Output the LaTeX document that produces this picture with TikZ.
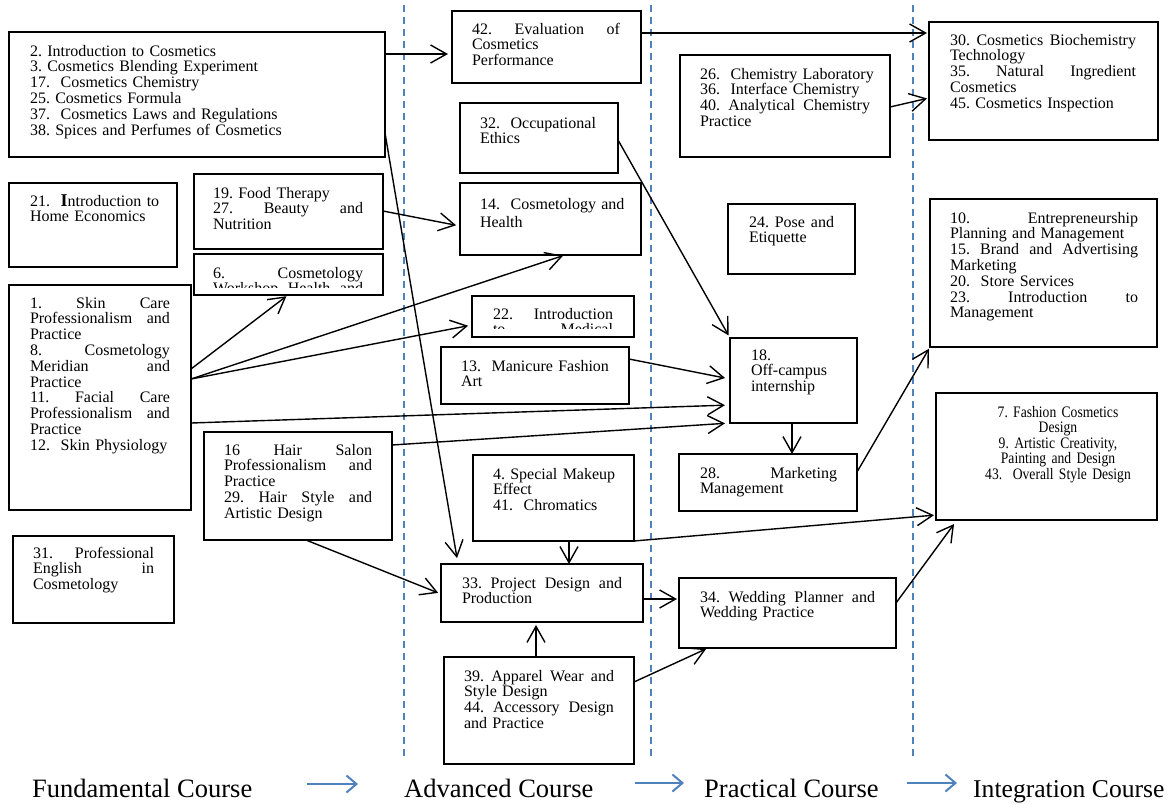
\documentclass[tikz,border=0pt]{standalone}
\usepackage{fontspec}
\setmainfont{Liberation Serif}
\newfontfamily\condserif[FakeStretch=0.85]{Liberation Serif}
\usetikzlibrary{arrows.meta}
\definecolor{sepblue}{RGB}{79,129,189}
\frenchspacing
\newcommand\jline[1]{\makebox[\hsize][s]{\spaceskip=0.25em plus 1fil\relax #1}}
\newcommand\jlinew[2]{\makebox[#1][s]{\spaceskip=0.25em plus 1fil\relax #2}}
\newcommand\bxfont{\fontsize{16}{15.8}\selectfont\lineskiplimit=-100pt\frenchspacing\hyphenpenalty=10000\relax}
\newcommand\smfont{\condserif\fontsize{16}{15.5}\selectfont\lineskiplimit=-100pt\frenchspacing\relax}
\begin{document}
\begin{tikzpicture}[x=1pt,y=-1pt,
  box/.style={draw, line width=1.8pt, anchor=north west, inner sep=0pt, outer sep=0pt},
  txt/.style={anchor=base west, inner sep=0pt, outer sep=0pt, align=left, font=\bxfont},
  arr/.style={line width=1.4pt, -{Straight Barb[length=16pt,width=18pt,line width=1.4pt]}},
  sep/.style={draw=sepblue, line width=1.3pt, dash pattern=on 7pt off 5pt},
  lab/.style={anchor=base west, inner sep=0pt, font=\fontsize{26.5}{30}\selectfont},
  bluearr/.style={draw=sepblue, line width=2pt, -{Straight Barb[length=10pt,width=17pt,line width=2pt]}}
]
\useasboundingbox (0,0) rectangle (1170,804);
\fill[white] (0,0) rectangle (1170,804);

% separators
\draw[sep] (404,5) -- (404,757);
\draw[sep] (651,5) -- (651,757);
\draw[sep] (913,5) -- (913,757);

% boxes
\node[box, minimum width=376pt, minimum height=125pt] (A) at (9,32) {};
\node[box, minimum width=168pt, minimum height=84pt] (b21) at (9,183) {};
\node[box, minimum width=189pt, minimum height=75pt] (b19) at (194,174) {};
\node[box, minimum width=189pt, minimum height=41pt] (b6) at (194,254) {};
\node[box, minimum width=182pt, minimum height=225pt] (b1) at (9,285) {};
\node[box, minimum width=188pt, minimum height=108pt] (b16) at (204,432) {};
\node[box, minimum width=161pt, minimum height=87pt] (b31) at (13,536) {};
\node[box, minimum width=189pt, minimum height=72pt] (b42) at (452,11) {};
\node[box, minimum width=158pt, minimum height=70pt] (b32) at (460,103) {};
\node[box, minimum width=181pt, minimum height=72pt] (b14) at (460,183) {};
\node[box, minimum width=162pt, minimum height=41pt] (b22) at (472,296) {};
\node[box, minimum width=188pt, minimum height=57pt] (b13) at (441,347) {};
\node[box, minimum width=161pt, minimum height=86pt] (b4) at (473,455) {};
\node[box, minimum width=202pt, minimum height=58pt] (b33) at (441,564) {};
\node[box, minimum width=190pt, minimum height=107pt] (b39) at (444,657) {};
\node[box, minimum width=210pt, minimum height=102pt] (b26) at (680,55) {};
\node[box, minimum width=127pt, minimum height=70pt] (b24) at (728,204) {};
\node[box, minimum width=127pt, minimum height=85pt] (b18) at (730,338) {};
\node[box, minimum width=178pt, minimum height=57pt] (b28) at (679,454) {};
\node[box, minimum width=217pt, minimum height=70pt] (b34) at (679,578) {};
\node[box, minimum width=229pt, minimum height=118pt] (b30) at (929,22) {};
\node[box, minimum width=227pt, minimum height=148pt] (b10) at (930,199) {};
\node[box, minimum width=221pt, minimum height=127pt] (b7) at (936,393) {};

% texts
\node[txt, text width=340pt] (tA) at (30,56) {2. Introduction to Cosmetics\\3. Cosmetics Blending Experiment\\17.~~Cosmetics Chemistry\\25. Cosmetics Formula\\37.~~Cosmetics Laws and Regulations\\38. Spices and Perfumes of Cosmetics};
\node[txt, text width=140pt] (t21) at (30,206) {21.~~{\fontsize{18}{15}\selectfont\bfseries I}ntroduction to\\Home Economics};
\node[txt, text width=150pt] (t19) at (213,198) {19. Food Therapy\\ \jlinew{150pt}{27. Beauty and}\\Nutrition};
\begin{scope}
\clip (194,254) rectangle (383,287);
\node[txt, text width=150pt] (t6) at (213,278) {\jlinew{150pt}{6. Cosmetology}\\ \jlinew{150pt}{Workshop Health and}};
\end{scope}
\node[txt, text width=140pt] (t1) at (30,308) {\jlinew{140pt}{1. Skin Care}\\ \jlinew{140pt}{Professionalism and}\\Practice\\ \jlinew{140pt}{8. Cosmetology}\\ \jlinew{140pt}{Meridian and}\\Practice\\ \jlinew{140pt}{11. Facial Care}\\ \jlinew{140pt}{Professionalism and}\\Practice\\12.~~Skin Physiology};
\node[txt, text width=148pt] (t16) at (224,455) {\jlinew{148pt}{16 Hair Salon}\\ \jlinew{148pt}{Professionalism and}\\Practice\\ \jlinew{148pt}{29. Hair Style and}\\Artistic Design};
\node[txt, text width=121pt] (t31) at (33,558) {\jlinew{121pt}{31. Professional}\\ \jlinew{121pt}{English in}\\Cosmetology};
\node[txt, text width=148pt] (t42) at (472,34) {\jlinew{148pt}{42. Evaluation of}\\Cosmetics\\Performance};
\node[txt, text width=130pt] (t32) at (480,128) {32.~~Occupational\\Ethics};
\node[txt, text width=150pt] (t14) at (480,209) {14.~~Cosmetology and\\[3pt]Health};
\begin{scope}
\clip (472,296) rectangle (634,328.5);
\node[txt, text width=120pt] (t22) at (493,319) {\jlinew{120pt}{22. Introduction}\\ \jlinew{120pt}{to Medical}};
\end{scope}
\node[txt, text width=160pt] (t13) at (461,371) {13.~~Manicure Fashion\\Art};
\node[txt, text width=135pt] (t4) at (493,479) {4. Special Makeup\\Effect\\41.~~Chromatics};
\node[txt, text width=160pt] (t33) at (462,588) {\jlinew{160pt}{33.~Project Design and}\\Production};
\node[txt, text width=150pt] (t39) at (464,681) {\jlinew{150pt}{39.~Apparel Wear and}\\Style Design\\ \jlinew{150pt}{44.~Accessory Design}\\and Practice};
\node[txt, text width=185pt] (t26) at (700,79) {26.~~Chemistry Laboratory\\36.~~Interface Chemistry\\ \jlinew{170pt}{40.~Analytical Chemistry}\\Practice};
\node[txt, text width=85pt] (t24) at (749,227) {\jlinew{85pt}{24. Pose and}\\Etiquette};
\node[txt, text width=100pt] (t18) at (751,360) {18.\\Off-campus\\internship};
\node[txt, text width=137pt] (t28) at (700,478) {\jlinew{137pt}{28. Marketing}\\Management};
\node[txt, text width=175pt] (t34) at (700,602) {\jlinew{175pt}{34. Wedding Planner and}\\Wedding Practice};
\node[txt, text width=186pt] (t30) at (950,45) {\jlinew{186pt}{30.~Cosmetics Biochemistry}\\Technology\\ \jlinew{186pt}{35. Natural Ingredient}\\Cosmetics\\45. Cosmetics Inspection};
\node[txt, text width=188pt] (t10) at (950,223) {\jlinew{188pt}{10. Entrepreneurship}\\Planning and Management\\ \jlinew{188pt}{15.~Brand and Advertising}\\Marketing\\20.~~Store Services\\ \jlinew{188pt}{23. Introduction to}\\Management};
\node[txt, anchor=base, align=center, text width=200pt, font=\smfont] (t7) at (1058,417) {7. Fashion Cosmetics\\Design\\9. Artistic Creativity,\\Painting and Design\\43.~~Overall Style Design};

% connectors
\draw[arr, shorten >=4pt] (A.east |- 0,54) -- (b42.west |- 0,54);
\draw[arr, shorten >=6pt] (A.east |- 0,133) -- (b33.north -| 458,0);
\draw[arr, shorten >=2pt] (b42.east |- 0,33) -- (b30.west |- 0,33);
\draw[arr, shorten >=2pt] (b26.east |- 0,107) -- (b30.west |- 0,98);
\draw[arr, shorten >=4pt] (b19.east |- 0,211) -- (b14.west |- 0,226);
\draw[arr, shorten >=2pt] (b1.east |- 0,369) -- (b6.south -| 288,0);
\draw[arr, shorten >=2pt] (b1.east |- 0,379) -- (b14.south -| 565,0);
\draw[arr, shorten >=4pt] (b1.east |- 0,379) -- (b22.west |- 0,325);
\draw[arr, shorten >=5pt] (b1.east |- 0,423) -- (b18.west |- 0,405);
\draw[arr, shorten >=5pt] (b16.east |- 0,445) -- (b18.south west);
\draw[arr, shorten >=5pt] (b13.east |- 0,359) -- (b18.west |- 0,379);
\draw[arr, shorten >=3pt] (b32.east |- 0,140) -- (b18.north west);
\draw[arr] (b18.south -| 792,0) -- (b28.north -| 792,0);
\draw[arr, shorten >=2pt] (b28.east |- 0,472) -- (b10.south west);
\draw[arr, shorten >=2pt] (b4.south east) -- (b7.west |- 0,515);
\draw[arr, shorten >=3pt] (b16.south -| 306,0) -- (b33.west |- 0,594);
\draw[arr] (b4.south -| 569,0) -- (b33.north -| 569,0);
\draw[arr, shorten >=2pt] (b33.east |- 0,599) -- (b34.west |- 0,599);
\draw[arr, shorten >=3pt] (b39.north -| 536,0) -- (b33.south -| 536,0);
\draw[arr, shorten >=2pt] (b39.east |- 0,682) -- (b34.south -| 708,0);
\draw[arr, shorten >=5pt] (b34.east |- 0,603) -- (b7.south -| 957,0);

% bottom labels
\node[lab] (L1) at (32,797) {Fundamental Course};
\node[lab] (L2) at (404,797) {Advanced Course};
\node[lab] (L3) at (704,797) {Practical Course};
\node[lab, font=\fontsize{25.6}{30}\selectfont] (L4) at (973,797) {Integration Course};
\coordinate (a1s) at (307,784); \coordinate (a1e) at (358,784);
\coordinate (a2s) at (635,783); \coordinate (a2e) at (684,783);
\coordinate (a3s) at (907,783); \coordinate (a3e) at (957,783);
\draw[bluearr] (a1s) -- (a1e);
\draw[bluearr] (a2s) -- (a2e);
\draw[bluearr] (a3s) -- (a3e);
\end{tikzpicture}
\end{document}
